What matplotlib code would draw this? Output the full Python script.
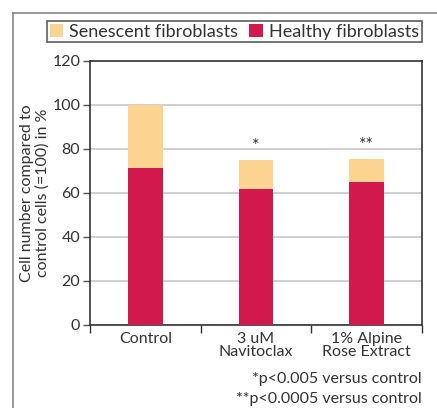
import matplotlib
matplotlib.use("Agg")
import matplotlib.pyplot as plt
from matplotlib.lines import Line2D
import numpy as np

plt.rcParams['font.family'] = ['Lato', 'DejaVu Sans']

categories = ["Control", "3 uM\nNavitoclax", "1% Alpine\nRose Extract"]
healthy = [71.5, 62, 65]
total = [100, 75, 75.5]
senescent = [t - h for t, h in zip(total, healthy)]
significance = ["", "*", "**"]
footnotes = ["*p<0.005 versus control", "**p<0.0005 versus control"]

healthy_color = "#D1194E"
senescent_color = "#FDD391"
text_color = "#333333"

fig = plt.figure(figsize=(4.37, 4.08), dpi=100)
ax = fig.add_axes([90 / 437, 1 - 325 / 408, 332 / 437, 264 / 408])

x = np.arange(len(categories))
width = 0.315
ax.bar(x, healthy, width, color=healthy_color, label="Healthy fibroblasts", zorder=3)
ax.bar(x, senescent, width, bottom=healthy, color=senescent_color,
       label="Senescent fibroblasts", zorder=3)

for xi, t, s in zip(x, total, significance):
    if s:
        ax.text(xi, t + 6.5, s, ha="center", va="center", fontsize=13, color=text_color)

ax.set_xlim(-0.5, len(categories) - 0.5)
ax.set_ylim(0, 120)
ax.set_yticks(np.arange(0, 121, 20))
ax.yaxis.grid(True, color="#c8c8c8", linewidth=1.2, zorder=0)
ax.set_axisbelow(True)

ax.set_xticks(x)
ax.set_xticklabels(categories, fontsize=11.5, color=text_color, linespacing=0.95)
ax.set_xticks(np.arange(-0.5, len(categories)), minor=True)
ax.tick_params(axis="x", which="major", length=0, pad=5)
ax.tick_params(axis="x", which="minor", length=6, width=1, color="#333333")
ax.tick_params(axis="y", length=5, width=1, color="#555555", labelsize=11.5,
               labelcolor=text_color, pad=2)
for sp in ax.spines.values():
    sp.set_color("#333333")
    sp.set_linewidth(1.2)

ax.set_ylabel("Cell number compared to\ncontrol cells (=100) in %", fontsize=11.5,
              color=text_color, linespacing=1.1, labelpad=2)

handles, labels = ax.get_legend_handles_labels()
leg = fig.legend(handles[::-1], labels[::-1], loc="upper right", ncol=2,
                 bbox_to_anchor=(422 / 437, 1 - 21 / 408), fontsize=13,
                 frameon=True, fancybox=False, handlelength=0.75, handleheight=0.75,
                 handletextpad=0.35, columnspacing=0.6, borderpad=0.15,
                 borderaxespad=0)
leg.get_frame().set_edgecolor("#333333")
leg.get_frame().set_linewidth(1.2)
for t in leg.get_texts():
    t.set_color(text_color)

fig.text(422 / 437, 1 - 379 / 408, footnotes[0], ha="right", va="center",
         fontsize=11.5, color=text_color)
fig.text(422 / 437, 1 - 399 / 408, footnotes[1], ha="right", va="center",
         fontsize=11.5, color=text_color)

# outer frame
fx = 13 / 437
fy = 1 - 13 / 408
fig.add_artist(Line2D([fx, fx], [0, fy], transform=fig.transFigure,
                      color="#888888", linewidth=1.2))
fig.add_artist(Line2D([fx, 1], [fy, fy], transform=fig.transFigure,
                      color="#888888", linewidth=1.2))

fig.savefig("out.png", dpi=100)
